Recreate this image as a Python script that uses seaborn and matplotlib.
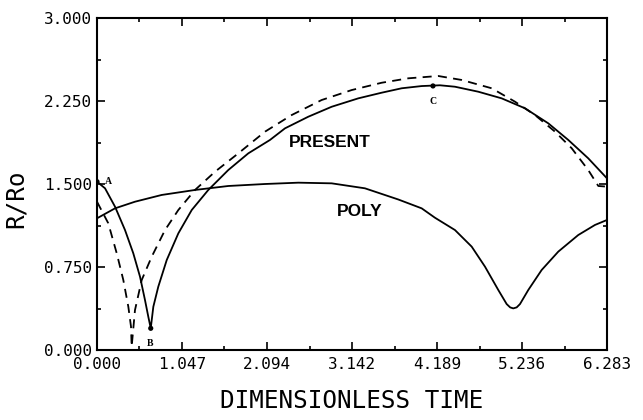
import numpy as np
import pandas as pd
import matplotlib
matplotlib.use("Agg")
import matplotlib.pyplot as plt
import seaborn as sns
from matplotlib.ticker import FixedLocator

# ---- data ----
present_x = [0.000, 0.099, 0.222, 0.345, 0.447, 0.530, 0.591, 0.632, 0.662, 0.694,
             0.755, 0.859, 1.002, 1.167, 1.371, 1.617, 1.864, 2.131, 2.316, 2.603,
             2.891, 3.219, 3.507, 3.754, 4.000, 4.225, 4.410, 4.697, 4.985, 5.273,
             5.560, 5.806, 6.052, 6.283]
present_y = [1.521, 1.461, 1.295, 1.084, 0.874, 0.662, 0.452, 0.301, 0.196, 0.391,
             0.572, 0.813, 1.054, 1.265, 1.446, 1.626, 1.777, 1.898, 2.003, 2.108,
             2.198, 2.274, 2.325, 2.365, 2.385, 2.392, 2.379, 2.334, 2.274, 2.184,
             2.048, 1.898, 1.732, 1.551]

dashed_x = [0.000, 0.139, 0.243, 0.324, 0.386, 0.419, 0.427, 0.468, 0.551, 0.674,
            0.838, 1.002, 1.207, 1.454, 1.741, 2.070, 2.398, 2.768, 3.138, 3.507,
            3.835, 4.204, 4.493, 4.862, 5.149, 5.396, 5.642, 5.848, 6.052, 6.176,
            6.283]
dashed_y = [1.340, 1.145, 0.874, 0.633, 0.391, 0.211, 0.030, 0.361, 0.633, 0.843,
            1.084, 1.265, 1.446, 1.611, 1.777, 1.973, 2.123, 2.259, 2.349, 2.415,
            2.455, 2.476, 2.440, 2.365, 2.244, 2.123, 1.973, 1.823, 1.626, 1.482,
            1.476]

poly_x = [0.000, 0.222, 0.468, 0.797, 1.207, 1.617, 2.070, 2.480, 2.891, 3.301,
          3.712, 4.000, 4.164, 4.410, 4.616, 4.780, 4.944, 5.047, 5.090, 5.128,
          5.170, 5.211, 5.313, 5.478, 5.683, 5.929, 6.135, 6.283]
poly_y = [1.190, 1.280, 1.340, 1.401, 1.446, 1.482, 1.500, 1.512, 1.506, 1.461,
          1.360, 1.280, 1.195, 1.084, 0.934, 0.753, 0.542, 0.415, 0.385, 0.376,
          0.385, 0.415, 0.542, 0.723, 0.889, 1.039, 1.130, 1.175]

point_labels = ["A", "B", "C"]
point_x = [0.000, 0.662, 4.139]
point_y = [1.521, 0.196, 2.386]

x_ticks = [0.000, 1.047, 2.094, 3.142, 4.189, 5.236, 6.283]
y_ticks = [0.000, 0.750, 1.500, 2.250, 3.000]

# ---- plot ----
sns.set_style("ticks")
plt.rcParams['font.family'] = ['DejaVu Sans Mono', 'DejaVu Sans']
plt.rcParams['text.color'] = 'black'
plt.rcParams['axes.labelcolor'] = 'black'
plt.rcParams['lines.solid_joinstyle'] = 'round'
plt.rcParams['lines.dash_joinstyle'] = 'round'

fig = plt.figure(figsize=(6.43, 4.2), dpi=100)
ax = fig.add_axes([97 / 643, 70 / 420, 510 / 643, 332 / 420])

df_p = pd.DataFrame({"t": present_x, "r": present_y})
df_d = pd.DataFrame({"t": dashed_x, "r": dashed_y})
df_q = pd.DataFrame({"t": poly_x, "r": poly_y})

sns.lineplot(data=df_p, x="t", y="r", sort=False, estimator=None, color="black", lw=1.3, ax=ax)
sns.lineplot(data=df_d, x="t", y="r", sort=False, estimator=None, color="black", lw=1.3,
             ax=ax, linestyle=(0, (5, 3.5)))
sns.lineplot(data=df_q, x="t", y="r", sort=False, estimator=None, color="black", lw=1.3, ax=ax)
sns.scatterplot(x=point_x, y=point_y, color="black", s=14, ax=ax, zorder=5, edgecolor="none")

offsets = {"A": (0.135, 1.527), "B": (0.653, 0.063), "C": (4.139, 2.241)}
for lab in point_labels:
    tx, ty = offsets[lab]
    ax.text(tx, ty, lab, fontsize=7, fontweight="bold", family=["Liberation Serif"],
            ha="center", va="center", color="black")

ax.text(2.864, 1.879, "PRESENT", fontsize=12.5, fontweight="bold",
        family=["Liberation Sans"], ha="center", va="center", color="black")
ax.text(3.24, 1.247, "POLY", fontsize=12.5, fontweight="bold",
        family=["Liberation Sans"], ha="center", va="center", color="black")

ax.set_xlim(0, 6.283)
ax.set_ylim(0, 3.0)
ax.set_xticks(x_ticks)
ax.set_xticklabels([f"{v:.3f}" for v in x_ticks])
ax.set_yticks(y_ticks)
ax.set_yticklabels([f"{v:.3f}" for v in y_ticks])
ax.xaxis.set_minor_locator(FixedLocator([(x_ticks[i] + x_ticks[i + 1]) / 2 for i in range(len(x_ticks) - 1)]))
ax.yaxis.set_minor_locator(FixedLocator([(y_ticks[i] + y_ticks[i + 1]) / 2 for i in range(len(y_ticks) - 1)]))

ax.tick_params(which="both", direction="in", top=True, right=True, width=1.2, colors="black",
               labelsize=11.5)
ax.tick_params(which="major", length=5.5)
ax.tick_params(which="minor", length=3)
ax.tick_params(axis="x", pad=5)
ax.tick_params(axis="y", pad=3.5)

for sp in ax.spines.values():
    sp.set_linewidth(1.5)
    sp.set_color("black")

ax.set_xlabel("DIMENSIONLESS TIME", fontsize=17.5, labelpad=12)
ax.set_ylabel("R/Ro", fontsize=17.5)
ax.yaxis.set_label_coords(-0.135, 0.455)

fig.savefig("out.png", dpi=100, facecolor="white")
